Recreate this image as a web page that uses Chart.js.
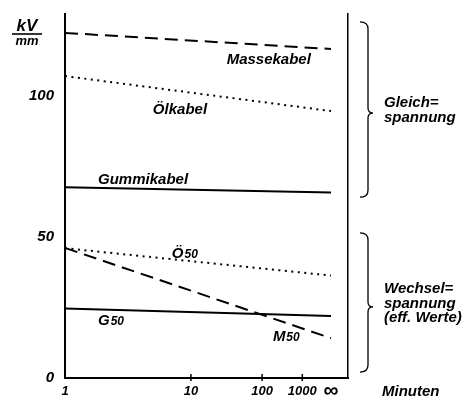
<!DOCTYPE html>
<html>
<head>
<meta charset="utf-8">
<script src="https://cdn.jsdelivr.net/npm/chart.js@4/dist/chart.umd.min.js"></script>
<style>
  html, body { margin: 0; padding: 0; background: #fff; }
  #wrap { width: 464px; height: 400px; }
</style>
</head>
<body>
<div id="wrap"><canvas id="c" width="464" height="400"></canvas></div>
<script>
// Durchschlagfestigkeit (kV/mm) von Kabeln über der Beanspruchungsdauer (Minuten)
const zeitpunkte = [1, Infinity];            // Beginn und Dauerwert (∞)
const massekabel = [122.3, 116.6];
const oelkabel   = [107.0, 94.6];
const gummikabel = [67.6, 65.7];
const oel50      = [46.0, 36.3];
const masse50    = [46.1, 14.1];
const gummi50    = [24.6, 22.0];

const xTickWerte = [1, 10, 100, 1000, Infinity];
const xTickTexte = ['1', '10', '100', '1000', '∞'];
const yTickWerte = [0, 50, 100];

// Zeitachse: jede Dekade ist um den Faktor R kürzer als die vorige, ∞ liegt kurz vor dem Rand
const R = 0.565, D1 = 0.445, INF_POS = 0.94;
function zeitAnteil(t) {
  if (!isFinite(t)) return INF_POS;
  return D1 * (1 - Math.pow(R, Math.log10(t))) / (1 - R);
}
class ZeitSkala extends Chart.Scale {
  static id = 'zeit';
  static defaults = {};
  parse(raw) { return raw; }
  determineDataLimits() { this.min = 0; this.max = 1; }
  buildTicks() { return xTickWerte.map(v => ({ value: v })); }
  getLabelForValue(v) { return String(v); }
  getPixelForValue(v) { return this.left + zeitAnteil(v) * this.width; }
  getValueForPixel(p) {
    const f = (p - this.left) / this.width;
    return Math.pow(10, Math.log(1 - f * (1 - R) / D1) / Math.log(R));
  }
  getPixelForTick(i) { return this.getPixelForValue(this.ticks[i].value); }
}
Chart.register(ZeitSkala);

const FONT = '"Liberation Sans", Arial, sans-serif';
const pts = ys => zeitpunkte.map((x, i) => ({ x, y: ys[i] }));

function kurve(label, ys, art) {
  const dash = art === 'gestrichelt' ? [13, 7] : art === 'punktiert' ? [2, 4.5] : [];
  return {
    label, data: pts(ys),
    borderColor: '#000', borderWidth: 2, borderDash: dash,
    pointRadius: 0, fill: false, tension: 0, borderCapStyle: 'butt'
  };
}

const kurvenTexte = [
  { text: 'Massekabel', t: 27,   v: 112.7 },
  { text: 'Ölkabel',    t: 4.3,  v: 95.0 },
  { text: 'Gummikabel', t: 1.63, v: 70.2 },
  { text: 'Ö', sub: '50', t: 6.4,  v: 43.9 },
  { text: 'G', sub: '50', t: 1.63, v: 20.2 },
  { text: 'M', sub: '50', t: 165,  v: 14.5 }
];

const klammern = [
  { oben: 126.2, spitze: 93.9, unten: 64.1, zeilen: ['Gleich=', 'spannung'], versatz: -10 },
  { oben: 51.4,  spitze: 25.2, unten: 2.1,  zeilen: ['Wechsel=', 'spannung', '(eff. Werte)'], versatz: -18 }
];

const beschriftung = {
  id: 'beschriftung',
  afterDraw(chart) {
    const { ctx, chartArea: a, scales: { x, y } } = chart;
    ctx.save();
    ctx.fillStyle = '#000';
    ctx.strokeStyle = '#000';

    // Teilstriche der Zeitachse (kreuzend), ∞-Zeichen größer gesetzt
    ctx.lineWidth = 1.5;
    xTickWerte.forEach((v, i) => {
      const px = x.getPixelForValue(v);
      if (!isFinite(v)) {
        ctx.font = 'bold 21px ' + FONT;
        ctx.textAlign = 'center'; ctx.textBaseline = 'middle';
        ctx.fillText(xTickTexte[i], px, a.bottom + 13);
        return;
      }
      if (v === 1) return;
      ctx.beginPath(); ctx.moveTo(px, a.bottom - 4); ctx.lineTo(px, a.bottom + 3); ctx.stroke();
    });

    // Einheit kV/mm als Bruch
    ctx.font = 'italic bold 17px ' + FONT;
    ctx.textAlign = 'center'; ctx.textBaseline = 'alphabetic';
    ctx.fillText('kV', 27, 31);
    ctx.lineWidth = 1.6;
    ctx.beginPath(); ctx.moveTo(12, 34); ctx.lineTo(42, 34); ctx.stroke();
    ctx.font = 'italic bold 13px ' + FONT;
    ctx.fillText('mm', 27, 45);

    // Achsentitel Minuten
    ctx.font = 'italic bold 15px ' + FONT;
    ctx.textAlign = 'left'; ctx.textBaseline = 'middle';
    ctx.fillText('Minuten', 382, 392);

    // Kurvenbezeichnungen
    kurvenTexte.forEach(k => {
      const px = x.getPixelForValue(k.t), py = y.getPixelForValue(k.v);
      ctx.textBaseline = 'middle'; ctx.textAlign = 'left';
      ctx.font = 'italic bold 15px ' + FONT;
      ctx.fillText(k.text, px, py);
      if (k.sub) {
        const w = ctx.measureText(k.text).width;
        ctx.font = 'italic bold 12px ' + FONT;
        ctx.fillText(k.sub, px + w + 1, py + 1);
      }
    });

    // Geschweifte Klammern mit Beschriftung
    ctx.lineWidth = 1.3;
    klammern.forEach(k => {
      const y1 = y.getPixelForValue(k.oben), y2 = y.getPixelForValue(k.unten), ym = y.getPixelForValue(k.spitze);
      const xh = a.right + 12, xs = a.right + 20, xp = a.right + 25;
      ctx.beginPath();
      ctx.moveTo(xh, y1);
      ctx.quadraticCurveTo(xs, y1, xs, y1 + 7);
      ctx.lineTo(xs, ym - 5);
      ctx.quadraticCurveTo(xs, ym, xp, ym);
      ctx.quadraticCurveTo(xs, ym, xs, ym + 5);
      ctx.lineTo(xs, y2 - 7);
      ctx.quadraticCurveTo(xs, y2, xh, y2);
      ctx.stroke();
      ctx.font = 'italic bold 15px ' + FONT;
      ctx.textAlign = 'left'; ctx.textBaseline = 'middle';
      k.zeilen.forEach((z, i) => ctx.fillText(z, a.right + 36, ym + k.versatz + i * 14.5));
    });
    ctx.restore();
  }
};

const ohneRandabstand = s => { s.paddingTop = 0; s.paddingBottom = 0; };

new Chart(document.getElementById('c'), {
  type: 'line',
  data: {
    datasets: [
      kurve('Massekabel', massekabel, 'gestrichelt'),
      kurve('Ölkabel', oelkabel, 'punktiert'),
      kurve('Gummikabel', gummikabel, 'durchgezogen'),
      kurve('Ö50', oel50, 'punktiert'),
      kurve('M50', masse50, 'gestrichelt'),
      kurve('G50', gummi50, 'durchgezogen')
    ]
  },
  options: {
    responsive: false,
    animation: false,
    layout: { padding: { left: 25, right: 116, top: 14, bottom: 0 } },
    plugins: { legend: { display: false }, tooltip: { enabled: false } },
    scales: {
      x: {
        type: 'zeit',
        grid: { display: false, drawTicks: false },
        border: { display: true, color: '#000', width: 2 },
        ticks: {
          autoSkip: false, maxRotation: 0, padding: 6, color: '#000',
          font: { family: FONT, size: 13, style: 'italic', weight: 'bold' },
          // das ∞-Zeichen wird im Beschriftungs-Plugin größer gezeichnet
          callback: (v, i) => isFinite(xTickWerte[i]) ? xTickTexte[i] : ''
        },
        afterFit: s => { s.height = 22; s.paddingLeft = 0; s.paddingRight = 0; }
      },
      y: {
        type: 'linear', min: 0, max: 129,
        afterBuildTicks: s => { s.ticks = yTickWerte.map(v => ({ value: v })); },
        grid: { display: false, drawTicks: false },
        border: { display: true, color: '#000', width: 2 },
        ticks: { padding: 11, color: '#000', font: { family: FONT, size: 15, style: 'italic', weight: 'bold' } },
        afterFit: s => { s.width = 40; ohneRandabstand(s); }
      },
      y2: {
        type: 'linear', position: 'right', min: 0, max: 129,
        grid: { display: false, drawTicks: false },
        border: { display: true, color: '#000', width: 1.5 },
        ticks: { display: false },
        afterFit: s => { s.width = 0; ohneRandabstand(s); }
      }
    }
  },
  plugins: [beschriftung]
});
</script>
</body>
</html>
